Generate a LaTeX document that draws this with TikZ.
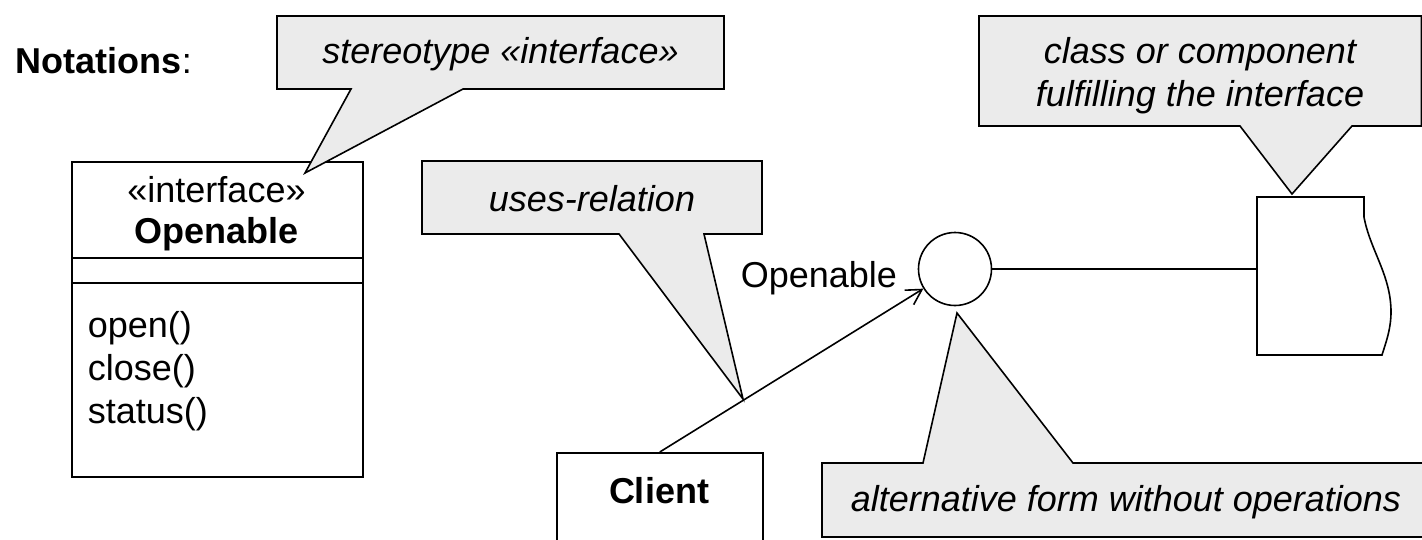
\documentclass[tikz,border=0pt]{standalone}
\usepackage{fontspec}
\setmainfont{Liberation Sans}
\usetikzlibrary{arrows.meta}
\definecolor{notefill}{RGB}{235,235,235}
\begin{document}
\begin{tikzpicture}[x=1pt, y=-1pt, line width=1.6pt,
  font=\fontsize{36}{43}\selectfont,
  note/.style={draw=black, fill=notefill, line join=miter},
  umlbox/.style={draw=black, fill=white, inner sep=0pt, anchor=north west},
  txt/.style={inner sep=0pt, anchor=base},
  txtl/.style={inner sep=0pt, anchor=base west},
  uses/.style={-{Straight Barb[length=15pt, width=17pt]}}]
\useasboundingbox (0,0) rectangle (1422,539);
\clip (0,0) rectangle (1422,539);

% heading
\node[txtl] (notations) at (15,73) {\textbf{Notations}:};

% interface class with three compartments
\node[umlbox, minimum width=291pt, minimum height=315pt] (cls) at (71,161) {};
\draw (cls.west |- 0,258) -- (cls.east |- 0,258);
\draw (cls.west |- 0,283) -- (cls.east |- 0,283);
\node[txt] (clsstereo) at (216.5,202) {«interface»};
\node[txt] (clsname) at (216.5,243) {\textbf{Openable}};
\node[txtl] (opopen) at (87,337) {open()};
\node[txtl] (opclose) at (87,380) {close()};
\node[txtl] (opstatus) at (87,423) {status()};

% lollipop form of the interface
\node[circle, draw, fill=white, minimum size=73pt, inner sep=0pt] (iface) at (955,269) {};
\node[txtl] (ifacelbl) at (740,287) {Openable};

% implementing component with wavy right side
\draw[fill=white] (1257,197) -- (1364,197) -- (1364,217)
  .. controls (1370,250) and (1391,275) .. (1391,312)
  .. controls (1391,330) and (1385,345) .. (1382,355)
  -- (1257,355) -- cycle;
\coordinate (compport) at (1257,269);
\draw (iface.east) -- (compport);

% client using the interface
\node[umlbox, minimum width=206pt, minimum height=120pt] (client) at (556,452) {};
\node[txt] (clientlbl) at (659,503) {\textbf{Client}};
\draw[uses] (client.north) -- (iface);

% callouts
\draw[note] (277,16) -- (724,16) -- (724,89) -- (463,89) -- (305,173)
  -- (351,89) -- (277,89) -- cycle;
\node[txt] (notestereo) at (500.5,63) {\itshape stereotype «interface»};

\draw[note] (422,161) -- (762,161) -- (762,234) -- (704,234) -- (743,399)
  -- (619,234) -- (422,234) -- cycle;
\node[txt] (noteuses) at (592,211) {\itshape uses-relation};

\draw[note] (979,16) -- (1421.5,16) -- (1421.5,126) -- (1352,126) -- (1292,194)
  -- (1240,126) -- (979,126) -- cycle;
\node[txt] (notecompa) at (1200,63) {\itshape class or component};
\node[txt] (notecompb) at (1200,106) {\itshape fulfilling the interface};

\draw[note] (822,463) -- (923,463) -- (957,313) -- (1073,463) -- (1440,463)
  -- (1440,537) -- (822,537) -- cycle;
\node[txtl] (notealt) at (850,511) {\itshape alternative form without operations};
\end{tikzpicture}
\end{document}
